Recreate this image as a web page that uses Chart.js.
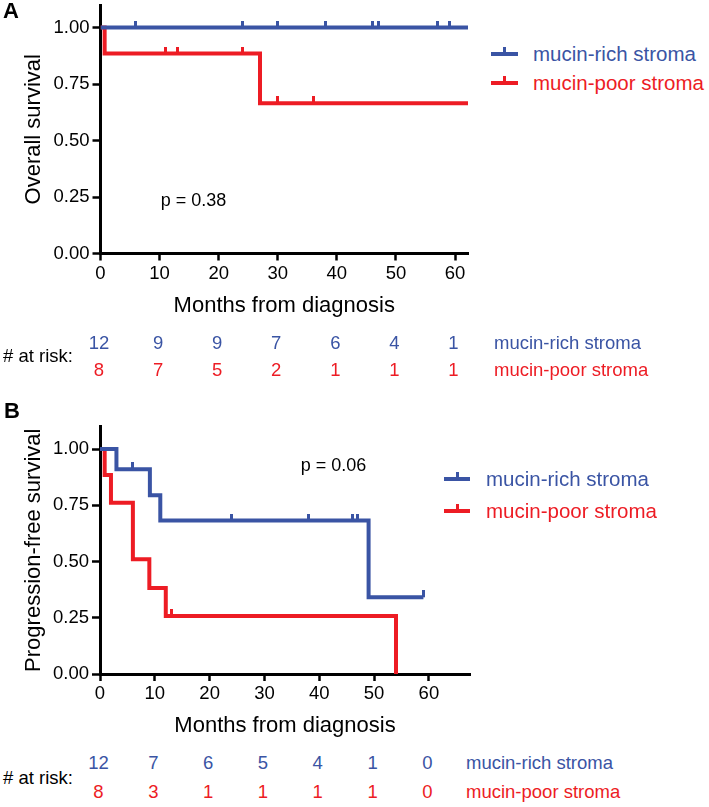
<!DOCTYPE html>
<html><head><meta charset="utf-8">
<script src="https://cdn.jsdelivr.net/npm/chart.js@4/dist/chart.umd.min.js"></script>
<style>
html,body{margin:0;padding:0;background:#fff;}
body{width:709px;height:807px;position:relative;overflow:hidden;font-family:"Liberation Sans",Arial,sans-serif;}
canvas{position:absolute;}
.t{position:absolute;white-space:nowrap;}
.sym{position:absolute;}
</style></head><body>
<canvas id="cA" width="480" height="320" style="left:0;top:0"></canvas>
<canvas id="cB" width="480" height="340" style="left:0;top:400px"></canvas>
<script>
const BLUE = '#3a54a4', RED = '#ed1c24';
const FONT = '"Liberation Sans", Arial, sans-serif';
const seriesNames = ['mucin-rich stroma', 'mucin-poor stroma'];

// Panel A: overall survival
const osRichTimes = [0, 62.2];
const osRichSurv = [1, 1];
const osRichCensorTimes = [6, 24, 30, 38, 46, 47, 57, 59];
const osRichCensorSurv = [1, 1, 1, 1, 1, 1, 1, 1];
const osPoorTimes = [0, 0.7, 27, 62.2];
const osPoorSurv = [1, 0.885, 0.665, 0.665];
const osPoorCensorTimes = [11, 13, 24, 30, 36];
const osPoorCensorSurv = [0.885, 0.885, 0.885, 0.665, 0.665];

// Panel B: progression-free survival
const pfsRichTimes = [0, 3, 9.1, 11, 49, 59];
const pfsRichSurv = [1, 0.91, 0.795, 0.682, 0.341, 0.341];
const pfsRichCensorTimes = [6, 24, 38, 46, 47, 59];
const pfsRichCensorSurv = [0.91, 0.682, 0.682, 0.682, 0.682, 0.341];
const pfsPoorTimes = [0, 0.85, 2, 6, 9, 12, 54];
const pfsPoorSurv = [1, 0.884, 0.761, 0.51, 0.382, 0.258, 0];
const pfsPoorCensorTimes = [13];
const pfsPoorCensorSurv = [0.258];

// numbers at risk
const riskTimes = [0, 10, 20, 30, 40, 50, 60];
const osRiskRich = [12, 9, 9, 7, 6, 4, 1];
const osRiskPoor = [8, 7, 5, 2, 1, 1, 1];
const pfsRiskRich = [12, 7, 6, 5, 4, 1, 0];
const pfsRiskPoor = [8, 3, 1, 1, 1, 1, 0];

function tickImg(color) {
  const c = document.createElement('canvas');
  c.width = 3; c.height = 14;
  const g = c.getContext('2d');
  g.fillStyle = color; g.fillRect(0, 0, 3, 7);
  return c;
}
const pts = (ts, ss) => ts.map((t, i) => ({x: t, y: ss[i]}));

function panel(id, p) {
  const zeroPad = s => { s.paddingLeft = 0; s.paddingRight = 0; s.paddingTop = 0; s.paddingBottom = 0; };
  return new Chart(document.getElementById(id), {
    type: 'line',
    data: {
      datasets: [
        {data: pts(p.rT, p.rS), borderColor: BLUE, borderWidth: 4, stepped: true, pointRadius: 0, fill: false, borderCapStyle: 'butt'},
        {data: pts(p.pT, p.pS), borderColor: RED, borderWidth: 4, stepped: true, pointRadius: 0, fill: false, borderCapStyle: 'butt'},
        {data: pts(p.rcT, p.rcS), showLine: false, pointStyle: tickImg(BLUE), pointRadius: 4, borderColor: BLUE, backgroundColor: BLUE},
        {data: pts(p.pcT, p.pcS), showLine: false, pointStyle: tickImg(RED), pointRadius: 4, borderColor: RED, backgroundColor: RED}
      ]
    },
    options: {
      responsive: false, animation: false, devicePixelRatio: 1,
      layout: {padding: {top: p.padTop, right: p.padRight, bottom: 0, left: 0}},
      plugins: {legend: {display: false}, tooltip: {enabled: false}},
      events: [],
      scales: {
        x: {
          type: 'linear', min: 0, max: p.xMax,
          border: {display: true, width: 3, color: '#000'},
          grid: {display: true, drawOnChartArea: false, drawTicks: true, tickLength: 7, tickWidth: 2.5, tickColor: '#000'},
          ticks: {stepSize: 10, includeBounds: false, padding: 2, color: '#000', font: {family: FONT, size: 18.5}, maxRotation: 0},
          title: {display: true, text: 'Months from diagnosis', color: '#000', font: {family: FONT, size: 22}, padding: {top: 0, bottom: p.xTitlePadB}},
          afterFit(s) { s.height = p.xH; zeroPad(s); }
        },
        y: {
          type: 'linear', min: 0, max: 1.1,
          border: {display: true, width: 3, color: '#000'},
          grid: {display: true, drawOnChartArea: false, drawTicks: true, tickLength: 8, tickWidth: 2.5, tickColor: '#000'},
          ticks: {stepSize: 0.25, includeBounds: false, padding: 3, color: '#000', font: {family: FONT, size: 18.5}, callback: v => v.toFixed(2)},
          title: {display: true, text: p.yTitle, color: '#000', font: {family: FONT, size: 22}, padding: {top: 21.2, bottom: 0}},
          afterFit(s) { s.width = p.yW; zeroPad(s); }
        }
      }
    }
  });
}

function txt(str, x, y, o = {}) {
  const size = o.size || 18;
  const d = document.createElement('div');
  d.className = 't'; d.textContent = str;
  d.style.fontSize = size + 'px'; d.style.lineHeight = size + 'px'; d.style.height = size + 'px';
  d.style.top = (y - size / 2) + 'px';
  d.style.color = o.color || '#000';
  d.style.fontWeight = o.weight || 'normal';
  d.style.left = x + 'px';
  if (o.align === 'center') d.style.transform = 'translateX(-50%)';
  document.body.appendChild(d);
}
function box(x, y, w, h, color) {
  const d = document.createElement('div');
  d.className = 'sym';
  Object.assign(d.style, {left: x + 'px', top: y + 'px', width: w + 'px', height: h + 'px', background: color});
  document.body.appendChild(d);
}
function legendItem(x0, x1, yLine, textX, color, label) {
  box(x0, yLine - 2, x1 - x0, 4, color);
  const cx = (x0 + x1) / 2;
  box(cx - 1.5, yLine - 7, 3, 7, color);
  txt(label, textX, yLine, {size: 20.5, color});
}

const chartA = panel('cA', {
  rT: osRichTimes, rS: osRichSurv, pT: osPoorTimes, pS: osPoorSurv,
  rcT: osRichCensorTimes, rcS: osRichCensorSurv, pcT: osPoorCensorTimes, pcS: osPoorCensorSurv,
  xMax: 62.2, padTop: 3.8, padRight: 12, xH: 66.5, yW: 100.5, xTitlePadB: 1.1, yTitle: 'Overall survival'
});
const chartB = panel('cB', {
  rT: pfsRichTimes, rS: pfsRichSurv, pT: pfsPoorTimes, pS: pfsPoorSurv,
  rcT: pfsRichCensorTimes, rcS: pfsRichCensorSurv, pcT: pfsPoorCensorTimes, pcS: pfsPoorCensorSurv,
  xMax: 67.5, padTop: 26.5, padRight: 10, xH: 66, yW: 100, xTitlePadB: 0.6, yTitle: 'Progression-free survival'
});

// Panel labels
txt('A', 3, 11, {size: 22, weight: 'bold'});
txt('B', 4, 411, {size: 22, weight: 'bold'});

// p-values
txt('p = 0.38', 160.7, 199.5, {size: 18});
txt('p = 0.06', 300.7, 465, {size: 18});

// Legends
legendItem(491, 518, 54, 533, BLUE, seriesNames[0]);
legendItem(491, 518, 83, 533, RED, seriesNames[1]);
legendItem(444, 470, 479, 486, BLUE, seriesNames[0]);
legendItem(444, 470, 511, 486, RED, seriesNames[1]);

// Risk tables
function riskTable(chart, rich, poor, yRich, yPoor, yLabel, xLabel) {
  txt('# at risk:', 3, yLabel, {size: 18.5});
  riskTimes.forEach((t, i) => {
    const x = chart.scales.x.getPixelForValue(t) - 1.5;
    txt(String(rich[i]), x, yRich, {size: 18.5, color: BLUE, align: 'center'});
    txt(String(poor[i]), x, yPoor, {size: 18.5, color: RED, align: 'center'});
  });
  txt(seriesNames[0], xLabel, yRich, {size: 18.5, color: BLUE});
  txt(seriesNames[1], xLabel, yPoor, {size: 18.5, color: RED});
}
riskTable(chartA, osRiskRich, osRiskPoor, 343.5, 370, 356, 494);
riskTable(chartB, pfsRiskRich, pfsRiskPoor, 763.3, 792.7, 778, 466);
</script>
</body></html>
